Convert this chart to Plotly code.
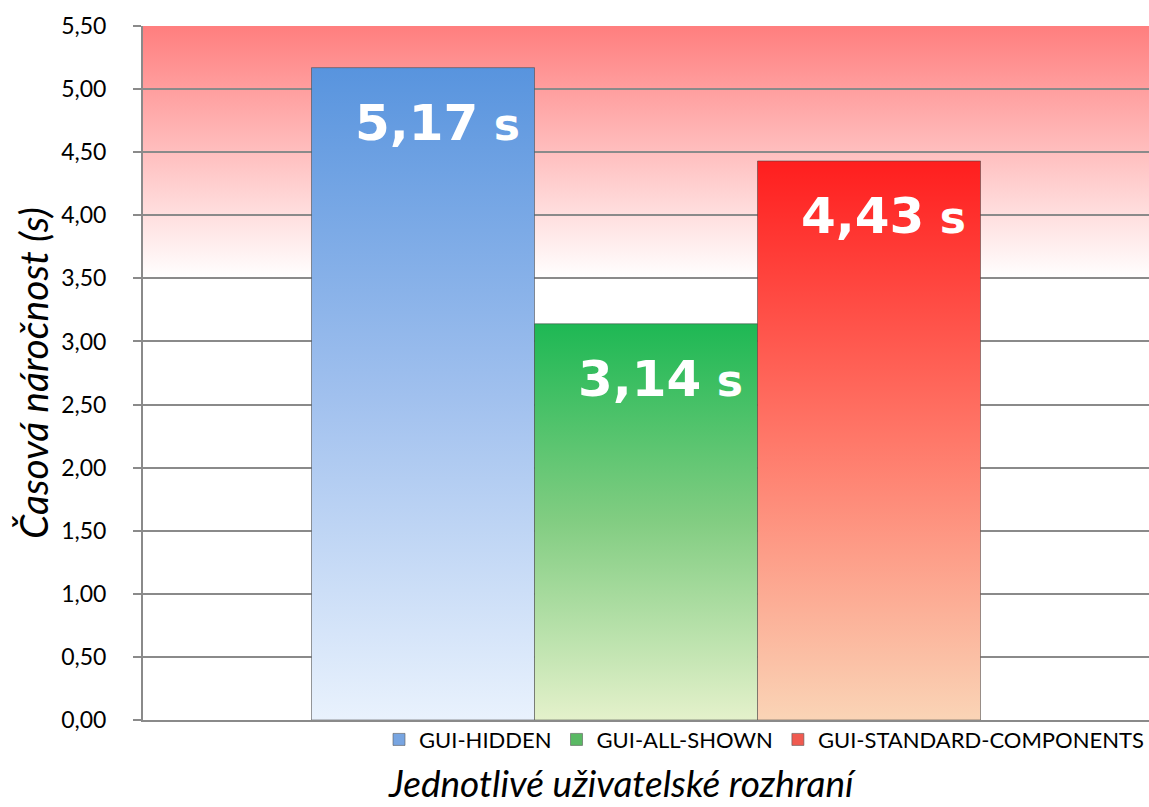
import base64
import plotly.graph_objects as go

# ---- data ----
categories = ["GUI-HIDDEN", "GUI-ALL-SHOWN", "GUI-STANDARD-COMPONENTS"]
values = [5.17, 3.14, 4.43]
value_labels = ["5,17", "3,14", "4,43"]
unit = "s"
y_ticks = [0, 0.5, 1.0, 1.5, 2.0, 2.5, 3.0, 3.5, 4.0, 4.5, 5.0, 5.5]
y_title = "Časová náročnost (s)"
x_title = "Jednotlivé uživatelské rozhraní"

# ---- styles ----
bar_gradients = [
    [[0, "rgb(233,242,253)"], [0.5, "rgb(160,192,238)"], [1, "rgb(88,148,222)"]],
    [[0, "rgb(228,241,203)"], [0.5, "rgb(130,205,130)"], [1, "rgb(30,184,84)"]],
    [[0, "rgb(250,212,182)"], [0.5, "rgb(255,120,105)"], [1, "rgb(255,30,30)"]],
]
legend_colors = ["rgb(120,165,225)", "rgb(90,185,100)", "rgb(240,90,80)"]
bar_width = 1.0
x_range = [-1.2556, 3.2556]
y_range = [0, 5.5]
grid_col = "rgb(138,138,138)"

fig = go.Figure()

for i, (cat, v) in enumerate(zip(categories, values)):
    x0, x1 = i - bar_width / 2, i + bar_width / 2
    fig.add_trace(go.Scatter(
        x=[x0, x1, x1, x0, x0],
        y=[0, 0, v, v, 0],
        mode="lines",
        fill="toself",
        fillgradient=dict(type="vertical", colorscale=bar_gradients[i], start=0, stop=v),
        line=dict(color="rgba(70,70,70,0.55)", width=1),
        name=cat, legendgroup=cat, showlegend=False,
        hoverinfo="name+y",
    ))
    # legend entry with a square swatch
    fig.add_trace(go.Bar(
        x=[None], y=[None], name=cat, legendgroup=cat,
        marker=dict(color=legend_colors[i], line=dict(color="rgba(90,90,90,0.6)", width=1)),
    ))
    fig.add_annotation(
        x=x1, y=v, xref="x", yref="y",
        text=(f"<span style='font-size:50px'>{value_labels[i]}</span>"
              f"<span style='font-size:44px'> {unit}</span>"),
        showarrow=False, xanchor="right", yanchor="top",
        xshift=-13, yshift=-24,
        font=dict(family="DejaVu Sans", size=50, color="white", weight="bold"),
    )

# background gradient (red to white) as an svg image below the grid
svg = ('<svg xmlns="http://www.w3.org/2000/svg" width="10" height="100" viewBox="0 0 10 100" '
       'preserveAspectRatio="none"><defs><linearGradient id="g" x1="0" y1="0" x2="0" y2="1">'
       '<stop offset="0" stop-color="#ff7e7e"/><stop offset="1" stop-color="#ffffff"/>'
       '</linearGradient></defs><rect width="10" height="100" fill="url(#g)"/></svg>')
src = "data:image/svg+xml;base64," + base64.b64encode(svg.encode()).decode()
fig.add_layout_image(
    source=src, xref="x", yref="y", x=x_range[0], y=y_range[1],
    sizex=x_range[1] - x_range[0], sizey=2.0, sizing="stretch",
    xanchor="left", yanchor="top", layer="below",
)

fig.update_layout(
    width=1149, height=807,
    margin=dict(l=143, r=0, t=26, b=87),
    paper_bgcolor="white", plot_bgcolor="white",
    separators=", ",
    showlegend=True,
    barmode="overlay",
    legend=dict(
        orientation="h", x=1.0, xanchor="right", y=0.002, yanchor="top",
        font=dict(family="Lato", size=22, color="black"),
        bgcolor="rgba(0,0,0,0)", itemwidth=30, traceorder="normal",
    ),
    xaxis=dict(
        range=x_range, showticklabels=False, showgrid=False, zeroline=False,
        showline=True, linecolor=grid_col, linewidth=2, ticks="", fixedrange=True,
    ),
    yaxis=dict(
        range=y_range, tickvals=y_ticks, tickformat=".2f",
        showgrid=True, gridcolor=grid_col, gridwidth=1.5,
        zeroline=False, showline=True, linecolor=grid_col, linewidth=2,
        ticks="outside", ticklen=8, tickwidth=1.5, tickcolor=grid_col,
        ticklabelstandoff=22,
        tickfont=dict(family="Lato", size=23, color="black"),
    ),
    annotations=list(fig.layout.annotations) + [
        dict(text=y_title, xref="paper", yref="paper", x=-143 / 1006 + 33 / 1006, y=0.5,
             xanchor="center", yanchor="middle", textangle=-90, showarrow=False,
             font=dict(family="Lato", size=39, style="italic", color="black")),
        dict(text=x_title, xref="paper", yref="paper", x=(622 - 143) / 1006, y=-(782 - 720) / 694,
             xanchor="center", yanchor="middle", showarrow=False,
             font=dict(family="Lato", size=37, style="italic", color="black")),
    ],
)

fig.write_html("out.html")
